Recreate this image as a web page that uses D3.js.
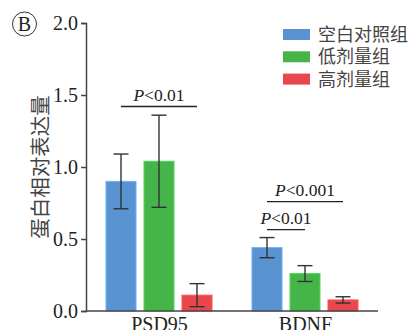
<!DOCTYPE html>
<html>
<head>
<meta charset="utf-8">
<script src="https://cdn.jsdelivr.net/npm/d3@7"></script>
<style>
body { margin: 0; background: #fff; }
text { font-family: "Liberation Serif", "DejaVu Serif", serif; }
.cjk { font-family: "Noto Sans CJK SC", sans-serif; }
</style>
</head>
<body>
<script>
// data
var groups = ["PSD95", "BDNF"];
var seriesNames = ["空白对照组", "低剂量组", "高剂量组"];
var seriesColors = ["#5a93d1", "#45b54a", "#e9464e"];
var means = [[0.90, 1.04, 0.11], [0.44, 0.26, 0.077]];
var errs = [[0.19, 0.32, 0.08], [0.07, 0.055, 0.022]];
var yTicks = [0, 0.5, 1.0, 1.5, 2.0];
// significance brackets: group, from series, to series, height, label
var sigs = [
	{g: "PSD95", a: 0, b: 2, y: 1.42, p: "<0.01"},
	{g: "BDNF", a: 0, b: 1, y: 0.565, p: "<0.01"},
	{g: "BDNF", a: 0, b: 2, y: 0.76, p: "<0.001"}
];

var W = 412, H = 330;
var svg = d3.select("body").append("svg")
	.attr("width", W).attr("height", H);

var mLeft = 86, mRight = 378, mTop = 23, mBottom = 311;

var y = d3.scaleLinear().domain([0, 2]).range([mBottom, mTop]);
var x0 = d3.scalePoint().domain(groups).range([mLeft, mRight]).padding(0.5);
var x1 = d3.scaleBand().domain(d3.range(3)).range([-57, 57]).paddingInner(0.21).paddingOuter(0.105);

// bars
groups.forEach(function(g, gi){
	var gg = svg.append("g").attr("transform", "translate(" + x0(g) + ",0)");
	for (var s = 0; s < 3; s++) {
		gg.append("rect")
			.attr("x", x1(s))
			.attr("y", y(means[gi][s]))
			.attr("width", x1.bandwidth())
			.attr("height", y(0) - y(means[gi][s]))
			.attr("fill", seriesColors[s])
			.attr("stroke", d3.color(seriesColors[s]).brighter(0.5))
			.attr("stroke-width", 1);
		var cx = x1(s) + x1.bandwidth() / 2;
		var hi = y(means[gi][s] + errs[gi][s]), lo = y(means[gi][s] - errs[gi][s]);
		gg.append("line").attr("x1", cx).attr("x2", cx).attr("y1", hi).attr("y2", lo)
			.attr("stroke", "#333").attr("stroke-width", 1.4);
		[hi, lo].forEach(function(v){
			gg.append("line").attr("x1", cx - 7.5).attr("x2", cx + 7.5).attr("y1", v).attr("y2", v)
				.attr("stroke", "#333").attr("stroke-width", 1.4);
		});
	}
});

// axes
var yAxis = d3.axisLeft(y).tickValues(yTicks).tickFormat(d3.format(".1f")).tickSize(5).tickPadding(3);
var ya = svg.append("g").attr("transform", "translate(" + mLeft + ",0)").call(yAxis);
ya.select(".domain").attr("stroke", "#444").attr("stroke-width", 1.5);
ya.selectAll(".tick line").attr("stroke", "#444").attr("stroke-width", 1.5);
ya.selectAll("text").attr("font-size", 20).attr("fill", "#222")
	.attr("font-family", "Liberation Serif, serif");

var xAxis = d3.axisBottom(x0).tickSize(0).tickPadding(6);
var xa = svg.append("g").attr("transform", "translate(0," + mBottom + ")").call(xAxis);
xa.select(".domain").attr("stroke", "#444").attr("stroke-width", 1.5)
	.attr("d", "M" + mLeft + ",0H" + mRight);
xa.selectAll("text").attr("font-size", 20).attr("fill", "#222")
	.attr("font-family", "Liberation Serif, serif");

// significance
sigs.forEach(function(d){
	var gx = x0(d.g);
	var xa_ = gx + x1(d.a) + x1.bandwidth() / 2;
	var xb_ = gx + x1(d.b) + x1.bandwidth() / 2;
	svg.append("line").attr("x1", xa_).attr("x2", xb_).attr("y1", y(d.y)).attr("y2", y(d.y))
		.attr("stroke", "#222").attr("stroke-width", 1.3);
	var t = svg.append("text")
		.attr("x", (xa_ + xb_) / 2).attr("y", y(d.y) - 6)
		.attr("text-anchor", "middle").attr("font-size", 17.5).attr("fill", "#222");
	t.append("tspan").attr("font-style", "italic").text("P");
	t.append("tspan").text(d.p);
});

// y label
svg.append("text").attr("class", "cjk")
	.attr("transform", "translate(48," + y(1.0) + ") rotate(-90)")
	.attr("text-anchor", "middle").attr("font-size", 20.5).attr("fill", "#444")
	.text("蛋白相对表达量");

// panel letter
svg.append("circle").attr("cx", 24.5).attr("cy", 24).attr("r", 12)
	.attr("fill", "none").attr("stroke", "#333").attr("stroke-width", 1);
svg.append("text").attr("x", 24.5).attr("y", 31).attr("text-anchor", "middle")
	.attr("font-size", 20).attr("fill", "#222").text("B");

// legend
var leg = svg.append("g").attr("transform", "translate(283,29)");
seriesNames.forEach(function(n, i){
	leg.append("rect").attr("x", 0).attr("y", i * 22.3).attr("width", 27).attr("height", 11)
		.attr("fill", seriesColors[i]);
	leg.append("text").attr("class", "cjk").attr("x", 35).attr("y", i * 22.3 + 12)
		.attr("font-size", 18).attr("fill", "#444").text(n);
});
</script>
</body>
</html>
